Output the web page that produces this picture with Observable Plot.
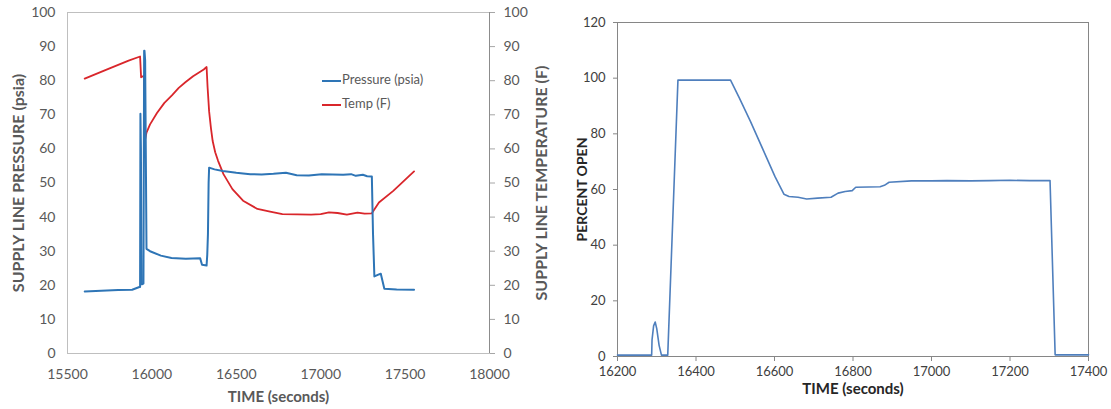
<!DOCTYPE html>
<html><head><meta charset="utf-8">
<script src="https://cdn.jsdelivr.net/npm/d3@7"></script>
<script src="https://cdn.jsdelivr.net/npm/@observablehq/plot@0.6"></script>
<style>
body{margin:0;background:#fff;font-family:Lato,"Open Sans",sans-serif;}
#wrap{display:flex;width:1111px;height:409px;position:relative;}
#legend{position:absolute;left:322px;top:67px;font:13px Lato,sans-serif;color:#595959;line-height:24px;}
#legend span.sw{display:inline-block;width:19px;height:2px;vertical-align:middle;margin-right:1px;}
</style></head>
<body><div id="wrap"></div>
<script>
// Left chart: supply line pressure and temperature
const tPressure = [15602,15700,15800,15883,15926,15930,15932,15935,15938,15941,15950,15954,15956,15960,15968,15989,16053,16116,16201,16286,16297,16324,16328,16332,16336,16339,16371,16420,16455,16500,16540,16583,16650,16720,16794,16858,16930,17006,17070,17133,17180,17208,17250,17275,17303,17310,17318,17345,17356,17377,17450,17553];
const pressure  = [18.2,18.4,18.6,18.7,19.5,19.5,70.3,60,20.3,20.3,20.5,88.8,88.8,86,30.7,30,28.7,28,27.8,27.9,26,25.8,29,35,50,54.5,54,53.5,53.3,53,52.8,52.6,52.5,52.7,53,52.3,52.2,52.6,52.5,52.4,52.6,52.1,52.4,52.0,51.9,35,22.6,23.2,23.4,19,18.8,18.7];
const tTemp = [15602,15735,15862,15930,15936,15947,15953,15958,15968,15989,16030,16074,16120,16159,16200,16244,16307,16324,16330,16339,16350,16360,16375,16392,16424,16477,16540,16625,16700,16773,16860,16943,17000,17049,17100,17155,17218,17260,17303,17345,17430,17553];
const temp  = [80.6,83.3,85.9,87.1,81,81.3,81.5,62.3,64.8,67.2,70.5,73.5,75.8,77.9,79.6,81.3,83.3,84,78,71,66,62.3,59,56.5,52.6,48.2,44.8,42.4,41.6,40.9,40.8,40.7,40.9,41.4,41.2,40.7,41.3,41.0,41.1,44.3,47.7,53.4];
const xTicksL = [15500,16000,16500,17000,17500,18000];
const yTicksL = [0,10,20,30,40,50,60,70,80,90,100];

// Right chart: valve percent open
const tValve = [16200,16287,16288,16292,16296,16300,16306,16312,16328,16354,16420,16488,16510,16539,16575,16601,16624,16637,16660,16682,16710,16744,16762,16780,16798,16807,16840,16869,16880,16892,16949,17000,17039,17100,17150,17200,17250,17302,17315,17400];
const pct    = [0.5,0.5,6,11,12.4,10,4,0.5,0.5,99.3,99.3,99.3,93,84.4,73,64.7,58.3,57.5,57.2,56.6,56.9,57.2,58.7,59.3,59.6,60.8,60.9,61,61.5,62.6,63.1,63.1,63.2,63.1,63.2,63.3,63.2,63.2,0.6,0.6];
const xTicksR = [16200,16400,16600,16800,17000,17200,17400];
const yTicksR = [0,20,40,60,80,100,120];

const pressureData = tPressure.map((t,i)=>({t, v: pressure[i]}));
const tempData = tTemp.map((t,i)=>({t, v: temp[i]}));
const valveData = tValve.map((t,i)=>({t, v: pct[i]}));

const gray = "#595959";
const left = Plot.plot({
  width: 560, height: 409,
  marginLeft: 67, marginRight: 71, marginTop: 12, marginBottom: 56,
  style: {fontFamily: "Lato, 'Open Sans', sans-serif", fontSize: "14px", color: gray, background: "#fff", overflow: "visible"},
  x: {domain: [15500,18000], ticks: xTicksL},
  y: {domain: [0,100], ticks: yTicksL},
  marks: [
    Plot.frame({stroke: "#bfbfbf"}),
    Plot.axisY({ticks: yTicksL, anchor: "left", tickSize: 0, tickPadding: 12, label: null, fontSize: 14}),
    Plot.axisY({ticks: yTicksL, anchor: "right", tickSize: 5, tickPadding: 9, label: null, fontSize: 14, stroke: "#a6a6a6"}),
    Plot.axisX({ticks: xTicksL, tickSize: 0, tickPadding: 16, label: null, tickFormat: d=>String(d), fontSize: 14}),
    Plot.ruleX([18000], {stroke: "#8c8c8c", strokeWidth: 1}),
    Plot.line(tempData, {x: "t", y: "v", stroke: "#d9262b", strokeWidth: 1.8}),
    Plot.line(pressureData, {x: "t", y: "v", stroke: "#2e75b6", strokeWidth: 2}),
    Plot.text(["SUPPLY LINE PRESSURE (psia)"], {frameAnchor: "left", dx: -49, rotate: -90, textAnchor: "middle", fontWeight: "bold", fontSize: 16, fill: gray}),
    Plot.text(["SUPPLY LINE TEMPERATURE (F)"], {frameAnchor: "right", dx: 52, rotate: -90, textAnchor: "middle", fontWeight: "bold", fontSize: 16, fill: gray}),
    Plot.text(["TIME (seconds)"], {frameAnchor: "bottom", dy: 48, textAnchor: "middle", fontWeight: "bold", fontSize: 15, fill: gray})
  ]
});

const dark = "#404040";
const right = Plot.plot({
  width: 551, height: 409,
  marginLeft: 57, marginRight: 23, marginTop: 22, marginBottom: 53,
  style: {fontFamily: "Lato, 'Open Sans', sans-serif", fontSize: "13px", color: dark, background: "#fff", overflow: "visible"},
  x: {domain: [16200,17400], ticks: xTicksR},
  y: {domain: [0,120], ticks: yTicksR},
  marks: [
    Plot.frame({stroke: "#868686"}),
    Plot.axisY({ticks: yTicksR, tickSize: 4, tickPadding: 8, label: null, stroke: "#868686"}),
    Plot.axisX({ticks: xTicksR, tickSize: 5, tickPadding: 5, label: null, tickFormat: d=>String(d), stroke: "#868686"}),
    Plot.line(valveData, {x: "t", y: "v", stroke: "#4f7fbd", strokeWidth: 1.6}),
    Plot.text(["PERCENT OPEN"], {frameAnchor: "left", dx: -35, rotate: -90, textAnchor: "middle", fontWeight: "bold", fontSize: 14, fill: "#262626"}),
    Plot.text(["TIME (seconds)"], {frameAnchor: "bottom", dy: 37, textAnchor: "middle", fontWeight: "bold", fontSize: 15, fill: "#262626"})
  ]
});

const wrap = document.getElementById("wrap");
wrap.appendChild(left);
wrap.appendChild(right);
const lg = document.createElement("div");
lg.id = "legend";
lg.innerHTML = '<div><span class="sw" style="background:#2e75b6"></span>Pressure (psia)</div><div><span class="sw" style="background:#d9262b"></span>Temp (F)</div>';
wrap.appendChild(lg);
</script>
</body></html>
